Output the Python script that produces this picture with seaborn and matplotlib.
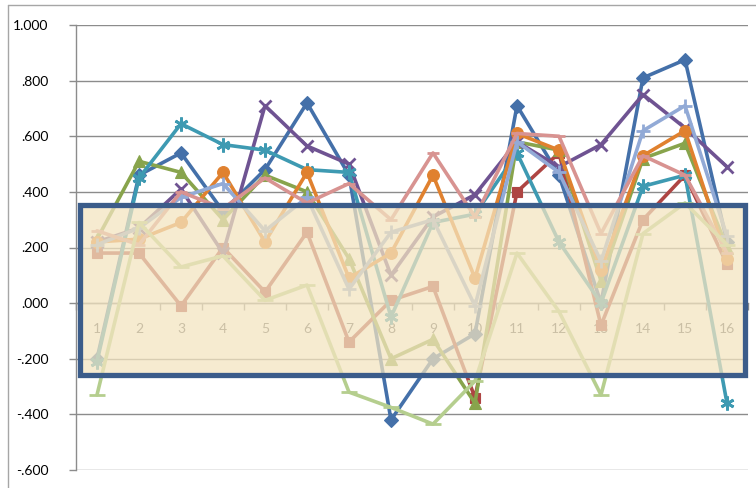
import matplotlib
matplotlib.use("Agg")
import matplotlib.pyplot as plt
import seaborn as sns
import pandas as pd
from matplotlib.patches import Rectangle
from matplotlib.lines import Line2D
from matplotlib.ticker import FuncFormatter, MultipleLocator, FixedLocator
from matplotlib.colors import to_rgb

categories = list(range(1, 17))

s_blue = [-0.20, 0.46, 0.54, 0.33, 0.48, 0.72, 0.46, -0.42, -0.20, -0.11, 0.71, 0.46, 0.00, 0.81, 0.875, 0.22]
s_red = [0.18, 0.18, -0.01, 0.20, 0.04, 0.255, -0.14, 0.01, 0.06, -0.34, 0.40, 0.54, -0.08, 0.30, 0.46, 0.14]
s_green = [0.23, 0.51, 0.47, 0.30, 0.46, 0.40, 0.16, -0.20, -0.13, -0.36, 0.58, 0.55, 0.08, 0.52, 0.575, 0.20]
s_purple = [0.22, 0.27, 0.41, 0.18, 0.71, 0.565, 0.50, 0.10, 0.31, 0.39, 0.58, 0.49, 0.57, 0.75, 0.63, 0.49]
s_teal = [-0.21, 0.45, 0.645, 0.57, 0.55, 0.48, 0.47, -0.05, 0.29, 0.32, 0.54, 0.22, 0.00, 0.42, 0.46, -0.36]
s_orange = [0.22, 0.23, 0.29, 0.47, 0.22, 0.47, 0.09, 0.18, 0.46, 0.09, 0.61, 0.55, 0.12, 0.53, 0.62, 0.16]
s_lightblue = [0.21, 0.27, 0.38, 0.43, 0.26, 0.38, 0.05, 0.255, 0.30, -0.01, 0.58, 0.47, 0.15, 0.62, 0.71, 0.24]
s_pink = [0.26, 0.21, 0.40, 0.34, 0.45, 0.36, 0.43, 0.30, 0.54, 0.31, 0.61, 0.60, 0.25, 0.53, 0.46, 0.18]
s_lightgreen = [-0.33, 0.29, 0.13, 0.17, 0.01, 0.065, -0.32, -0.375, -0.435, -0.28, 0.18, -0.03, -0.33, 0.25, 0.36, 0.21]

series_values = [s_blue, s_red, s_green, s_purple, s_teal, s_orange,
                 s_lightblue, s_pink, s_lightgreen]
series_colors = ["#4470A9", "#AE4543", "#88A44C", "#6F5392", "#3E9AB2",
                 "#E0812F", "#92AAD6", "#D89391", "#B5CE8E"]
series_markers = ["D", "s", "^", "x", (6, 2, 0), "o", "+", "_", "_"]
marker_sizes = [7.5, 7.5, 8, 8, 10, 8.5, 10, 9, 11]

y_ticks = [-0.6, -0.4, -0.2, 0.0, 0.2, 0.4, 0.6, 0.8, 1.0]

sns.set_theme(style="white")
plt.rcParams["font.family"] = ["Lato", "DejaVu Sans"]

fig = plt.figure(figsize=(7.56, 4.88), dpi=100)
ax = fig.add_axes([76 / 756, 18 / 488, (748 - 76) / 756, (470 - 25) / 488])

grid_color = "#8C8C8C"
for t in y_ticks:
    ax.axhline(t, color=grid_color, lw=1.0, zorder=1)

for i, (vals, col, mk, ms) in enumerate(zip(series_values, series_colors,
                                            series_markers, marker_sizes)):
    df = pd.DataFrame({"x": categories, "y": vals})
    line_art = mk in ("x", "+", "_") or isinstance(mk, tuple)
    sns.lineplot(data=df, x="x", y="y", ax=ax, color=col, lw=2.6,
                 marker=mk, markersize=ms,
                 markeredgewidth=2.0 if line_art else 0.8,
                 markeredgecolor=col, markerfacecolor=col,
                 zorder=3 + i * 0.1, legend=False)

# parchment panel laid over the lower band of the plot
panel_rgb = to_rgb("#F3E4C0")
ax.add_patch(Rectangle((0.595, -0.259), 16.43 - 0.595, 0.353 + 0.259,
                       facecolor=(*panel_rgb, 0.74), edgecolor="#3B5C8A",
                       lw=3.8, zorder=10, clip_on=False))

ax.set_xlim(0.5, 16.5)
ax.set_ylim(-0.6, 1.0)
ax.set_xlabel("")
ax.set_ylabel("")

ax.yaxis.set_major_locator(FixedLocator(y_ticks))
ax.yaxis.set_major_formatter(FuncFormatter(
    lambda v, p: ("-" if v < -1e-9 else "") + f"{abs(v):.3f}".replace("0.", ".", 1)
    if abs(v) < 1 else f"{v:.3f}"))
ax.tick_params(axis="y", which="major", direction="out", length=5, width=1,
               color=grid_color, pad=15, labelsize=10, labelcolor="#000000",
               left=True)

ax.xaxis.set_major_locator(FixedLocator(categories))
ax.set_xticklabels([str(c) for c in categories])
ax.xaxis.set_minor_locator(FixedLocator([c + 0.5 for c in range(0, 17)]))
ax.tick_params(axis="x", which="major", length=0, pad=14, labelsize=10,
               labelcolor="#595959")
ax.tick_params(axis="x", which="minor", direction="out", length=5, width=1,
               color=grid_color, bottom=True)

for side in ("top", "right"):
    ax.spines[side].set_visible(False)
ax.spines["left"].set_color(grid_color)
ax.spines["left"].set_linewidth(1.0)
ax.spines["bottom"].set_position(("data", 0))
ax.spines["bottom"].set_color(grid_color)
ax.spines["bottom"].set_linewidth(1.0)

# outer chart frame
fig.add_artist(Line2D([8 / 756, 8 / 756], [0, 1 - 5 / 488], color="#A6A6A6", lw=1.0))
fig.add_artist(Line2D([8 / 756, 1], [1 - 5 / 488, 1 - 5 / 488], color="#A6A6A6", lw=1.0))

fig.savefig("out.png", dpi=100)
